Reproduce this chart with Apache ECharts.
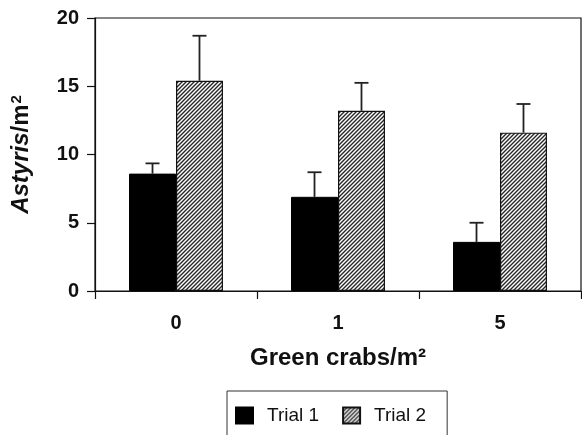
<!DOCTYPE html>
<html>
<head>
<meta charset="utf-8">
<script src="https://cdn.jsdelivr.net/npm/echarts@6/dist/echarts.min.js"></script>
<style>html,body{margin:0;padding:0;background:#fff}#c{width:582px;height:435px}</style>
</head>
<body>
<div id="c"></div>
<script>
const categories = ['0', '1', '5'];
const trial1 = [8.6, 6.9, 3.6];
const trial1Err = [9.35, 8.7, 5.0];
const trial2 = [15.4, 13.2, 11.6];
const trial2Err = [18.7, 15.25, 13.7];
const yTicks = [0, 5, 10, 15, 20];

const FONT = '"Liberation Sans", Arial, Helvetica, sans-serif';

function hatch() {
  const c = document.createElement('canvas');
  c.width = 4; c.height = 4;
  const g = c.getContext('2d');
  g.fillStyle = '#fff'; g.fillRect(0, 0, 4, 4);
  g.strokeStyle = '#262626'; g.lineWidth = 1.4;
  g.beginPath();
  g.moveTo(-1, 5); g.lineTo(5, -1);
  g.moveTo(-1, 1); g.lineTo(1, -1);
  g.moveTo(3, 5); g.lineTo(5, 3);
  g.stroke();
  return { image: c, repeat: 'repeat' };
}
const hatchFill = hatch();
const BAR_FRAC = 0.29;

function errRenderer(side) {
  return function (params, api) {
    const x = api.value(0), v = api.value(1), hi = api.value(2);
    const bw = api.size([1, 0])[0] * BAR_FRAC;
    const off = side * bw / 2;
    const p0 = api.coord([x, v]);
    const p1 = api.coord([x, hi]);
    const cx = p0[0] + off;
    const st = { stroke: '#222', lineWidth: 1.8 };
    return {
      type: 'group',
      children: [
        { type: 'line', shape: { x1: cx, y1: p0[1], x2: cx, y2: p1[1] }, style: st },
        { type: 'line', shape: { x1: cx - 7, y1: p1[1], x2: cx + 7, y2: p1[1] }, style: st }
      ]
    };
  };
}

const chart = echarts.init(document.getElementById('c'), null, { renderer: 'canvas' });
chart.setOption({
  animation: false,
  backgroundColor: '#fff',
  textStyle: { fontFamily: FONT },
  grid: { left: 95, top: 18, right: 1, bottom: 144, show: true, borderColor: '#111', borderWidth: 1.2, backgroundColor: 'transparent' },
  legend: {
    data: [{ name: 'Trial 1', icon: 'rect' }, { name: 'Trial 2', icon: 'rect' }],
    left: 227, top: 391,
    padding: [15, 21, 30, 8],
    borderColor: '#333', borderWidth: 1,
    itemWidth: 17, itemHeight: 16, itemGap: 23,
    formatter: '{a|{name}}',
    textStyle: { fontFamily: FONT, fontSize: 19, color: '#111', rich: { a: { fontFamily: FONT, fontSize: 19, color: '#111', padding: [0, 0, 0, 9] } } }
  },
  xAxis: {
    type: 'category',
    data: categories,
    axisLine: { lineStyle: { color: '#111', width: 1.2 } },
    axisTick: { show: true, length: 8, interval: 0, lineStyle: { color: '#111', width: 1.2 } },
    axisLabel: { fontFamily: FONT, fontSize: 20, fontWeight: 'bold', color: '#111', margin: 22 },
    name: 'Green crabs/m²',
    nameLocation: 'middle',
    nameGap: 55,
    nameTextStyle: { fontFamily: FONT, fontSize: 24, fontWeight: 'bold', color: '#111' }
  },
  yAxis: {
    type: 'value',
    min: 0, max: 20, interval: 5,
    splitLine: { show: false },
    axisLine: { show: true, lineStyle: { color: '#111', width: 1.2 } },
    axisTick: { show: true, length: 8, lineStyle: { color: '#111', width: 1.2 } },
    axisLabel: { fontFamily: FONT, fontSize: 20, fontWeight: 'bold', color: '#111', margin: 16,
      formatter: v => yTicks.includes(v) ? String(v) : '' },
    name: '{i|Astyris}{n|/m}{s|2}',
    nameLocation: 'middle',
    nameGap: 61,
    nameTextStyle: {
      rich: {
        i: { fontFamily: FONT, fontSize: 24, fontWeight: 'bold', fontStyle: 'italic', color: '#111' },
        n: { fontFamily: FONT, fontSize: 24, fontWeight: 'bold', color: '#111' },
        s: { fontFamily: FONT, fontSize: 15, fontWeight: 'bold', color: '#111', verticalAlign: 'top', padding: [0, 0, 10, 1] }
      }
    }
  },
  series: [
    { name: 'Trial 1', type: 'bar', data: trial1, barWidth: (BAR_FRAC * 100) + '%', barGap: '0%',
      itemStyle: { color: '#000', borderColor: '#000', borderWidth: 1 } },
    { name: 'Trial 2', type: 'bar', data: trial2, barWidth: (BAR_FRAC * 100) + '%', barGap: '0%',
      itemStyle: { color: hatchFill, borderColor: '#111', borderWidth: 1.2 } },
    { type: 'custom', name: 'err1', renderItem: errRenderer(-1), z: 1,
      data: trial1.map((v, i) => [i, v, trial1Err[i]]) },
    { type: 'custom', name: 'err2', renderItem: errRenderer(1), z: 1,
      data: trial2.map((v, i) => [i, v, trial2Err[i]]) }
  ]
});
</script>
</body>
</html>
